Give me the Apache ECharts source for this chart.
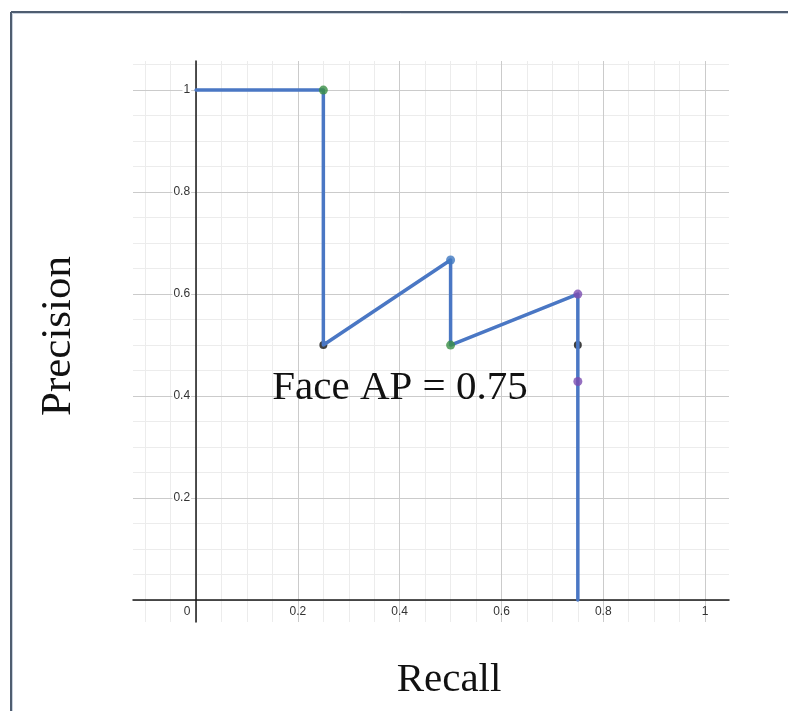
<!DOCTYPE html>
<html>
<head>
<meta charset="utf-8">
<title>Face AP</title>
<script src="https://cdn.jsdelivr.net/npm/echarts@6/dist/echarts.min.js"></script>
<style>
  html, body { margin: 0; padding: 0; background: #ffffff; }
  #chart { width: 788px; height: 711px; }
</style>
</head>
<body>
<div id="chart"></div>
<script>
// Precision-recall curve for the "Face" class
const recall    = [0, 0.25, 0.25, 0.5, 0.5, 0.75, 0.75, 0.75, 0.75];
const precision = [1, 1, 0.5, 0.6667, 0.5, 0.6, 0.5, 0.4286, 0];

// highlighted points along the curve
const markRecall    = [0.25, 0.25, 0.5, 0.5, 0.75, 0.75, 0.75];
const markPrecision = [1, 0.5, 0.6667, 0.5, 0.6, 0.5, 0.4286];
const markColors    = ['#3a8f45', '#111111', '#3f78c0', '#3a8f45', '#7a4cb0', '#111111', '#7a4cb0'];

const apText = 'Face AP = 0.75';
const xTitle = 'Recall';
const yTitle = 'Precision';

const xRange = [-0.124, 1.047];
const yRange = [-0.043, 1.057];

const serif = '"Liberation Serif", "DejaVu Serif", serif';
const sans = '"Liberation Sans", Arial, sans-serif';

// plot area in pixels
const gridBox = { left: 133, right: 59, top: 61, bottom: 89 };
const W = 788, H = 711;
const plotW = W - gridBox.left - gridBox.right;
const plotH = H - gridBox.top - gridBox.bottom;

// move the axes so they cross at the origin (labels travel with them)
const yAxisShift = -plotW * (0 - xRange[0]) / (xRange[1] - xRange[0]);
const xAxisShift = -plotH * (0 - yRange[0]) / (yRange[1] - yRange[0]);

function isMajor(v) {
  const k = Math.round(v / 0.2);
  return Math.abs(v - k * 0.2) < 1e-6;
}

const chart = echarts.init(document.getElementById('chart'), null, { renderer: 'canvas' });

const linePts = recall.map((r, i) => [r, precision[i]]);
const dots = markRecall.map((r, i) => ({
  value: [r, markPrecision[i]],
  itemStyle: { color: markColors[i] }
}));
const blackDots = dots.filter(d => d.itemStyle.color === '#111111');
const colorDots = dots.filter(d => d.itemStyle.color !== '#111111');

const majorX = {
  type: 'value', gridIndex: 0, min: xRange[0], max: xRange[1],
  minInterval: 0.2, maxInterval: 0.2, z: 2, position: 'bottom', offset: xAxisShift,
  axisLine: { show: true, onZero: false, lineStyle: { color: '#1a1a1a', width: 1.5 } },
  axisTick: { show: false },
  axisLabel: {
    show: true, margin: 6, color: '#333', fontFamily: sans, fontSize: 12,
    formatter: v => {
      if (!isMajor(v) || v < -1e-6) return '';
      if (Math.abs(v) < 1e-6) return '{z|0}';
      return String(Math.round(v * 10) / 10);
    },
    rich: { z: { padding: [0, 18, 0, 0], color: '#333', fontFamily: sans, fontSize: 12 } }
  },
  splitLine: { show: true, showMinLine: false, showMaxLine: false, lineStyle: { color: '#cbcbcb', width: 1 } }
};
const minorX = {
  type: 'value', gridIndex: 0, min: xRange[0], max: xRange[1],
  minInterval: 0.05, maxInterval: 0.05, z: 1, position: 'top',
  axisLine: { show: false }, axisTick: { show: false }, axisLabel: { show: false },
  splitLine: { show: true, showMinLine: false, showMaxLine: false, lineStyle: { color: '#ececec', width: 1 } }
};
const majorY = {
  type: 'value', gridIndex: 0, min: yRange[0], max: yRange[1],
  minInterval: 0.2, maxInterval: 0.2, z: 2, position: 'left', offset: yAxisShift,
  axisLine: { show: true, onZero: false, lineStyle: { color: '#1a1a1a', width: 1.5 } },
  axisTick: { show: false },
  axisLabel: {
    show: true, margin: 5, color: '#333', fontFamily: sans, fontSize: 12,
    backgroundColor: '#ffffff', padding: [0, 1],
    formatter: v => {
      if (!isMajor(v) || v < 1e-6) return '';
      return String(Math.round(v * 10) / 10);
    }
  },
  splitLine: { show: true, showMinLine: false, showMaxLine: false, lineStyle: { color: '#cbcbcb', width: 1 } }
};
const minorY = {
  type: 'value', gridIndex: 0, min: yRange[0], max: yRange[1],
  minInterval: 0.05, maxInterval: 0.05, z: 1, position: 'right',
  axisLine: { show: false }, axisTick: { show: false }, axisLabel: { show: false },
  splitLine: { show: true, showMinLine: false, showMaxLine: false, lineStyle: { color: '#ececec', width: 1 } }
};

chart.setOption({
  animation: false,
  backgroundColor: '#ffffff',
  grid: Object.assign({ containLabel: false }, gridBox),
  xAxis: [majorX, minorX],
  yAxis: [majorY, minorY],
  series: [
    {
      type: 'scatter', xAxisIndex: 0, yAxisIndex: 0, z: 3,
      symbolSize: 8, data: blackDots, silent: true
    },
    {
      type: 'line', xAxisIndex: 0, yAxisIndex: 0, z: 4,
      data: linePts, showSymbol: false, symbol: 'none',
      lineStyle: { color: '#4a77c4', width: 3.5, cap: 'round', join: 'round' },
      silent: true
    },
    {
      type: 'scatter', xAxisIndex: 0, yAxisIndex: 0, z: 5,
      symbolSize: 9, data: colorDots, silent: true
    }
  ],
  graphic: [
    // frame around the figure
    { type: 'line', shape: { x1: 11, y1: 12, x2: 788, y2: 12 }, style: { stroke: '#4f5d70', lineWidth: 2 } },
    { type: 'line', shape: { x1: 11, y1: 12, x2: 11, y2: 711 }, style: { stroke: '#4f5d70', lineWidth: 2 } },
    { type: 'line', shape: { x1: 12.5, y1: 13.5, x2: 788, y2: 13.5 }, style: { stroke: '#c9d2de', lineWidth: 1 } },
    { type: 'line', shape: { x1: 12.5, y1: 13.5, x2: 12.5, y2: 711 }, style: { stroke: '#c9d2de', lineWidth: 1 } },
    {
      type: 'text', x: 400, y: 388, z: 10,
      style: { text: apText, font: '41px ' + serif, fill: '#111', align: 'center', verticalAlign: 'middle' }
    },
    {
      type: 'text', x: 449, y: 680, z: 10,
      style: { text: xTitle, font: '41px ' + serif, fill: '#111', align: 'center', verticalAlign: 'middle' }
    },
    {
      type: 'text', x: 59, y: 336, rotation: Math.PI / 2, z: 10,
      style: { text: yTitle, font: '43px ' + serif, fill: '#111', align: 'center', verticalAlign: 'middle' }
    }
  ]
});
</script>
</body>
</html>
